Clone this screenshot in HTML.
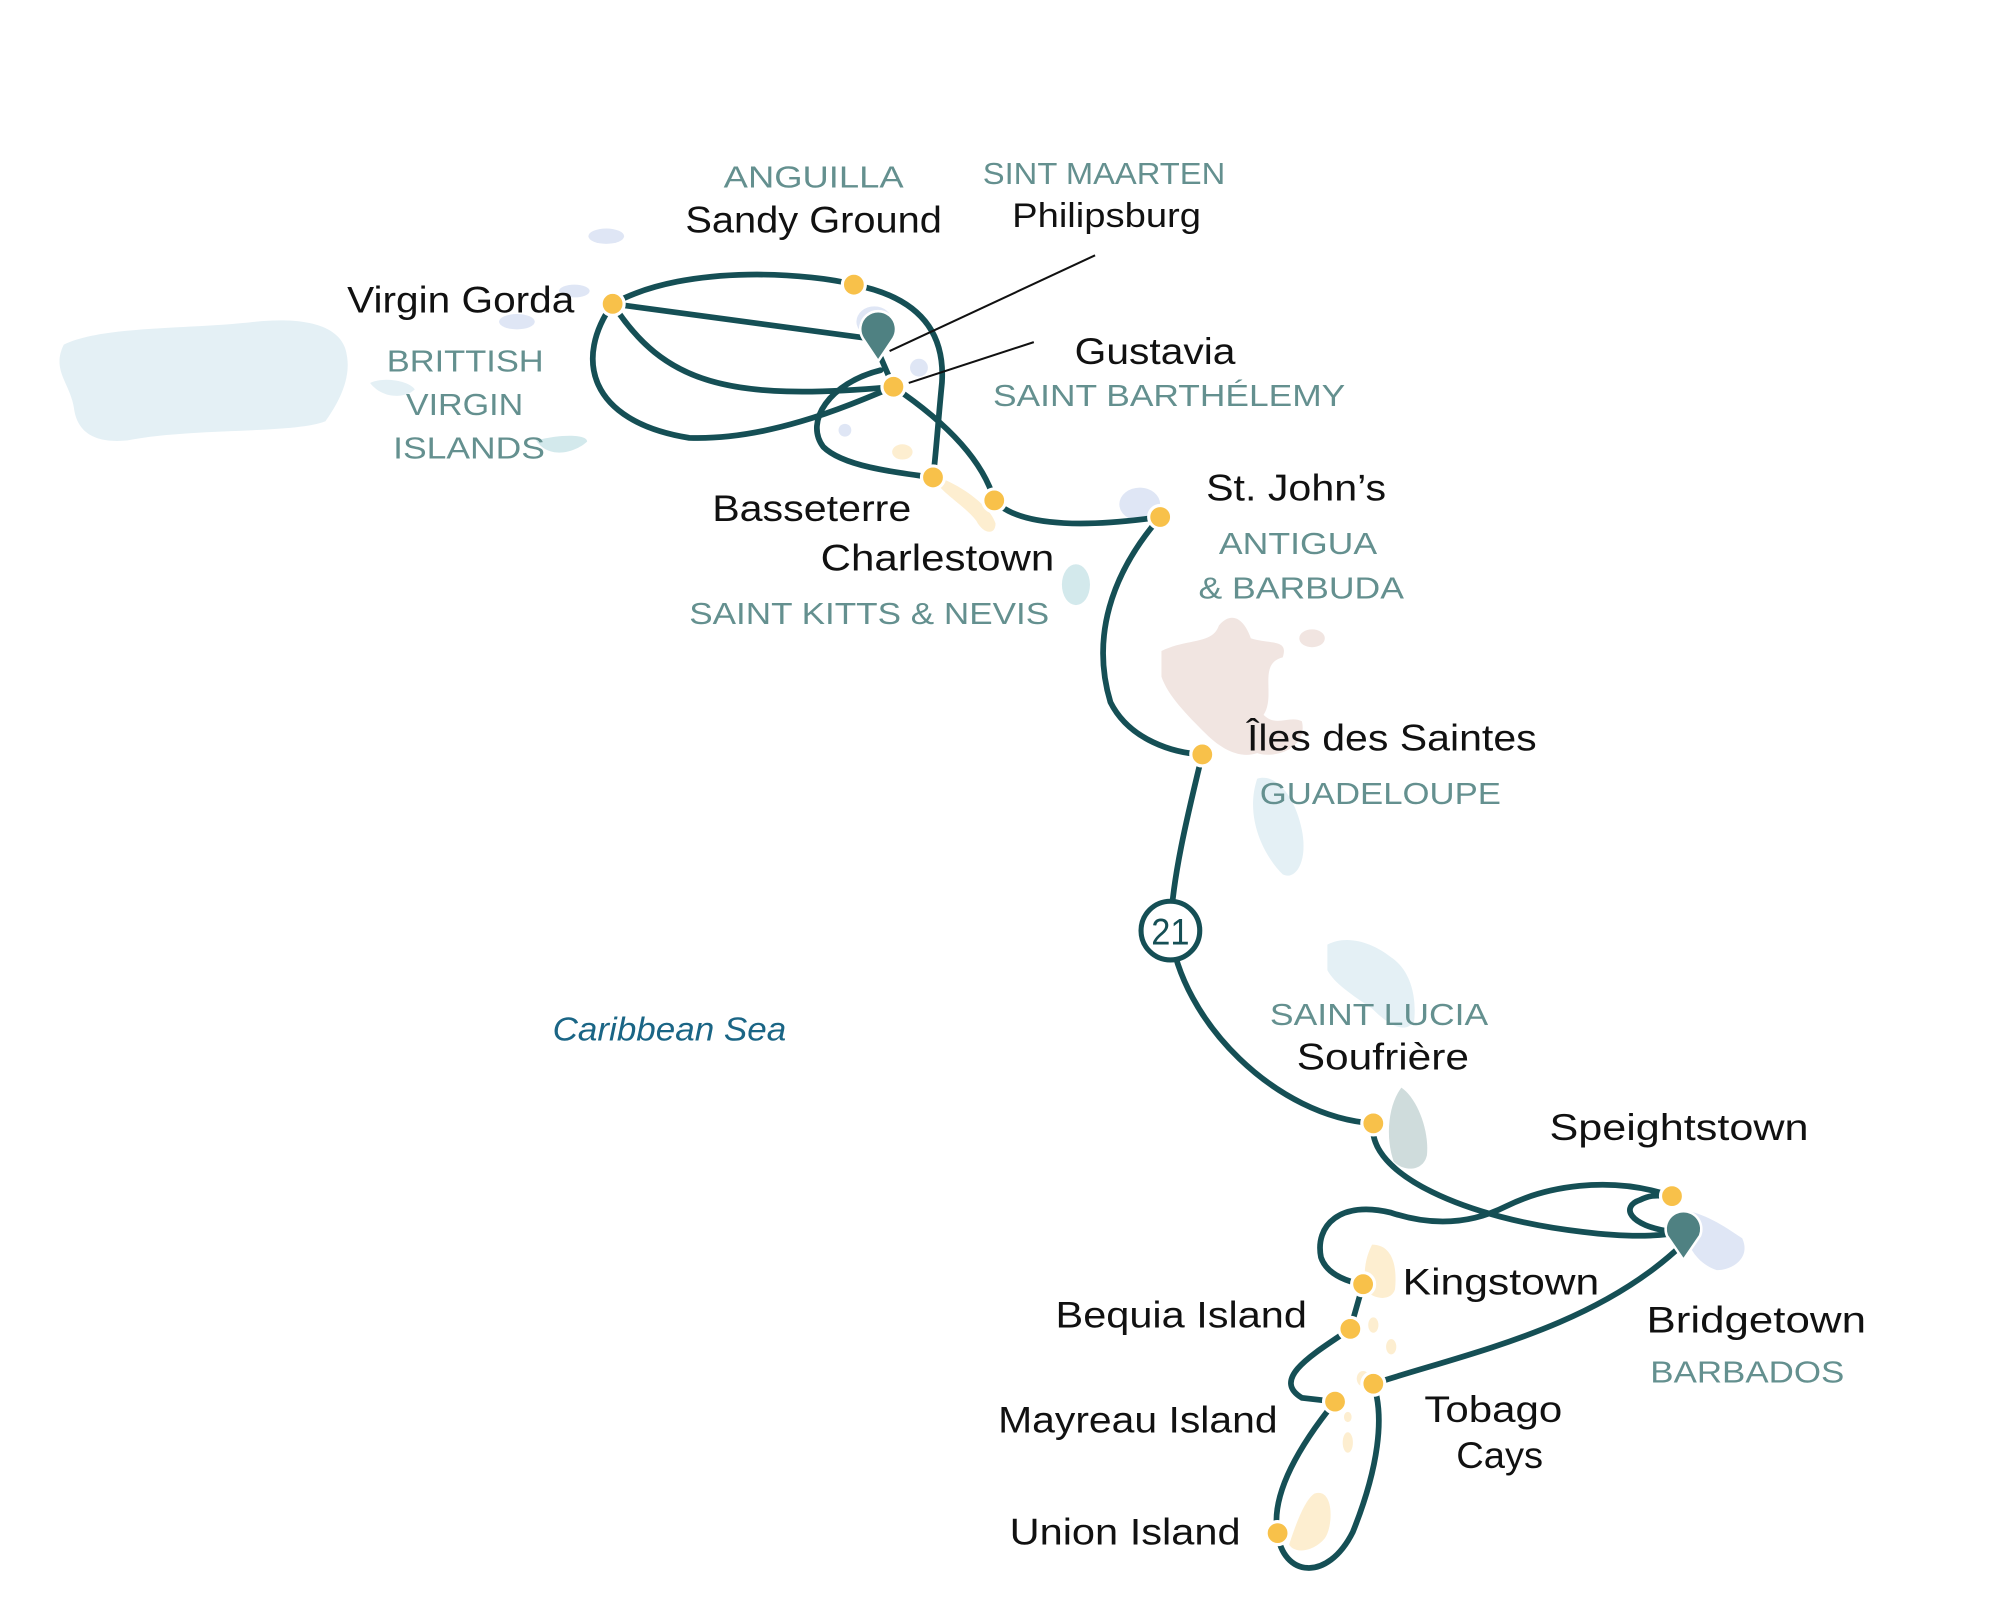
<!DOCTYPE html>
<html><head><meta charset="utf-8"><style>
html,body{margin:0;padding:0;background:#fff;}
svg{display:block;}
.n{font-family:"Liberation Sans",sans-serif;font-size:29px;fill:#111;}
.c{font-family:"Liberation Sans",sans-serif;font-size:24px;fill:#64908f;}
.r{fill:none;stroke:#154f55;stroke-width:4.5;stroke-linecap:round;}
.d{fill:#f8c14a;stroke:#fff;stroke-width:2.5;}
</style></head><body>
<svg width="2000" height="1611" viewBox="0 0 1567 1262" preserveAspectRatio="none" xmlns="http://www.w3.org/2000/svg">
<!-- islands -->
<path d="M50,270 C80,255 150,258 200,252 C240,248 270,255 272,280 C275,300 262,320 255,330 C230,340 150,335 100,345 C70,348 60,335 58,320 C55,300 40,290 50,270Z" fill="#e4f0f5"/>
<path d="M290,300 C300,295 320,298 325,305 C318,312 300,313 290,300Z" fill="#e4f0f5"/>
<path d="M420,345 C440,340 460,340 460,346 C450,355 430,360 420,345Z" fill="#d3e9ec"/>
<ellipse cx="475" cy="185" rx="14" ry="6" fill="#dfe6f5"/>
<ellipse cx="450" cy="228" rx="12" ry="5" fill="#dfe6f5"/>
<ellipse cx="405" cy="252" rx="14" ry="6" fill="#dfe6f5"/>
<ellipse cx="685" cy="252" rx="14" ry="12" fill="#dfe6f5"/>
<ellipse cx="720" cy="288" rx="7" ry="7" fill="#dfe6f5"/>
<ellipse cx="662" cy="337" rx="5" ry="5" fill="#dfe6f5"/>
<ellipse cx="707" cy="354" rx="8" ry="6" fill="#fdeed0"/>
<path d="M730,372 C750,378 775,395 780,410 C780,420 770,418 765,408 C755,395 735,385 730,372Z" fill="#fdeed0"/>
<ellipse cx="843" cy="458" rx="11" ry="16" fill="#d3e9ec"/>
<ellipse cx="893" cy="395" rx="16" ry="13" fill="#dfe6f5"/>
<path d="M910,510 C930,500 950,505 955,490 C965,478 975,485 980,500 C995,505 1010,500 1005,515 C985,520 1000,545 990,560 C1000,570 1010,560 1020,565 C1025,585 1000,595 985,590 C970,595 955,585 945,575 C930,560 915,545 910,530Z" fill="#f1e5e1"/>
<ellipse cx="1028" cy="500" rx="10" ry="7" fill="#f1e5e1"/>
<path d="M985,610 C1000,605 1015,625 1020,650 C1025,675 1015,690 1005,685 C990,670 975,640 985,610Z" fill="#e4f0f5"/>
<path d="M1040,740 C1055,732 1075,738 1090,750 C1105,760 1110,780 1108,800 C1100,812 1085,800 1075,790 C1060,780 1045,770 1040,760Z" fill="#e4f0f5"/>
<path d="M1098,852 C1110,860 1120,885 1118,905 C1115,918 1100,918 1092,910 C1085,890 1088,865 1098,852Z" fill="#cfdcdc"/>
<path d="M1318,948 C1335,950 1350,960 1365,970 C1372,985 1358,995 1345,995 C1330,990 1318,975 1318,948Z" fill="#dfe6f5"/>
<path d="M1075,975 C1090,975 1095,990 1093,1010 C1090,1020 1075,1018 1070,1010 C1068,995 1070,985 1075,975Z" fill="#fdeed0"/>
<ellipse cx="1076" cy="1038" rx="4" ry="6" fill="#fdeed0"/>
<ellipse cx="1090" cy="1055" rx="4" ry="6" fill="#fdeed0"/>
<ellipse cx="1068" cy="1080" rx="5" ry="6" fill="#fdeed0"/>
<ellipse cx="1056" cy="1110" rx="3" ry="4" fill="#fdeed0"/>
<ellipse cx="1056" cy="1130" rx="4" ry="8" fill="#fdeed0"/>
<path d="M1030,1170 C1045,1165 1045,1195 1038,1205 C1030,1215 1015,1218 1010,1210 C1015,1195 1022,1175 1030,1170Z" fill="#fdeed0"/>
<!-- routes -->
<path class="r" d="M480,238 C540,205 640,215 669,223 C730,235 740,270 738,300 C735,330 733,360 731,374"/>
<path class="r" d="M480,238 L680,265"/>
<path class="r" d="M480,238 C520,300 570,315 700,303"/>
<path class="r" d="M480,238 C450,280 460,330 540,343 C600,345 660,320 700,303"/>
<path class="r" d="M700,303 L690,280"/>
<path class="r" d="M690,290 C650,300 630,330 645,350 C660,365 700,370 731,374"/>
<path class="r" d="M700,303 C740,330 770,360 779,392 C800,415 860,412 909,405"/>
<path class="r" d="M909,405 C870,450 855,500 870,550 C885,580 920,590 942,591 C930,640 918,690 917,729 C925,800 1000,875 1076,880"/>
<path class="r" d="M1076,880 C1070,920 1150,955 1240,965 C1280,970 1305,968 1315,965"/>
<path class="r" d="M1310,965 C1275,960 1270,945 1285,940 C1295,935 1300,937 1310,937 C1260,920 1210,930 1180,945 C1150,960 1120,960 1090,950 C1050,940 1030,960 1035,985 C1040,1000 1060,1005 1068,1006 L1058,1041 C1030,1060 995,1080 1020,1095 L1046,1098 C1020,1130 995,1170 1001,1201 C1005,1235 1040,1240 1060,1200 C1080,1150 1085,1110 1076,1084 C1150,1060 1250,1040 1318,975"/>
<!-- pointers -->
<line x1="697" y1="275" x2="858" y2="200" stroke="#111" stroke-width="1.6"/>
<line x1="712" y1="300" x2="810" y2="268" stroke="#111" stroke-width="1.6"/>
<!-- pins -->
<path d="M688,283 L676,265 A14,14 0 1 1 700,265 Z" fill="#4f8182" stroke="#fff" stroke-width="2"/>
<path d="M1319,987 L1306,968 A14,14 0 1 1 1332,968 Z" fill="#4f8182" stroke="#fff" stroke-width="2"/>
<!-- dots -->
<g class="d">
<circle cx="480" cy="238" r="9"/><circle cx="669" cy="223" r="9"/><circle cx="700" cy="303" r="9"/>
<circle cx="731" cy="374" r="9"/><circle cx="779" cy="392" r="9"/><circle cx="909" cy="405" r="9"/>
<circle cx="942" cy="591" r="9"/><circle cx="1076" cy="880" r="9"/><circle cx="1310" cy="937" r="9"/>
<circle cx="1068" cy="1006" r="9"/><circle cx="1058" cy="1041" r="9"/><circle cx="1076" cy="1084" r="9"/>
<circle cx="1046" cy="1098" r="9"/><circle cx="1001" cy="1201" r="9"/>
</g>
<circle cx="917" cy="729" r="23" fill="#fff" stroke="#154f55" stroke-width="4"/>
<text x="917" y="740" text-anchor="middle" font-family="Liberation Sans,sans-serif" font-size="29" fill="#154f55" textLength="30" lengthAdjust="spacingAndGlyphs">21</text>
<!-- labels -->
<text class="c" x="567" y="147" textLength="141" lengthAdjust="spacingAndGlyphs">ANGUILLA</text>
<text class="n" x="537" y="182" textLength="201" lengthAdjust="spacingAndGlyphs">Sandy Ground</text>
<text class="c" x="770" y="144" textLength="190" lengthAdjust="spacingAndGlyphs">SINT MAARTEN</text>
<text class="n" x="793" y="178" style="font-size:27px" textLength="148" lengthAdjust="spacingAndGlyphs">Philipsburg</text>
<text class="n" x="272" y="245" textLength="178" lengthAdjust="spacingAndGlyphs">Virgin Gorda</text>
<text class="c" x="303" y="291" textLength="123" lengthAdjust="spacingAndGlyphs">BRITTISH</text>
<text class="c" x="318" y="325" textLength="92" lengthAdjust="spacingAndGlyphs">VIRGIN</text>
<text class="c" x="308" y="359" textLength="119" lengthAdjust="spacingAndGlyphs">ISLANDS</text>
<text class="n" x="842" y="285" textLength="126" lengthAdjust="spacingAndGlyphs">Gustavia</text>
<text class="c" x="778" y="318" textLength="276" lengthAdjust="spacingAndGlyphs">SAINT BARTHÉLEMY</text>
<text class="n" x="558" y="408" textLength="156" lengthAdjust="spacingAndGlyphs">Basseterre</text>
<text class="n" x="643" y="447" textLength="183" lengthAdjust="spacingAndGlyphs">Charlestown</text>
<text class="c" x="540" y="489" textLength="282" lengthAdjust="spacingAndGlyphs">SAINT KITTS &amp; NEVIS</text>
<text class="n" x="945" y="392" textLength="141" lengthAdjust="spacingAndGlyphs">St. John’s</text>
<text class="c" x="955" y="434" textLength="124" lengthAdjust="spacingAndGlyphs">ANTIGUA</text>
<text class="c" x="939" y="469" textLength="161" lengthAdjust="spacingAndGlyphs">&amp; BARBUDA</text>
<text class="n" x="977" y="588" textLength="227" lengthAdjust="spacingAndGlyphs">Îles des Saintes</text>
<text class="c" x="987" y="630" textLength="189" lengthAdjust="spacingAndGlyphs">GUADELOUPE</text>
<text class="c" x="995" y="803" textLength="171" lengthAdjust="spacingAndGlyphs">SAINT LUCIA</text>
<text class="n" x="1016" y="838" textLength="135" lengthAdjust="spacingAndGlyphs">Soufrière</text>
<text x="433" y="815" font-family="Liberation Sans,sans-serif" font-style="italic" font-size="26" fill="#1a6585" textLength="183" lengthAdjust="spacingAndGlyphs">Caribbean Sea</text>
<text class="n" x="1214" y="893" textLength="203" lengthAdjust="spacingAndGlyphs">Speightstown</text>
<text class="n" x="1099" y="1014" textLength="154" lengthAdjust="spacingAndGlyphs">Kingstown</text>
<text class="n" x="827" y="1040" textLength="197" lengthAdjust="spacingAndGlyphs">Bequia Island</text>
<text class="n" x="1290" y="1044" textLength="172" lengthAdjust="spacingAndGlyphs">Bridgetown</text>
<text class="c" x="1293" y="1083" textLength="152" lengthAdjust="spacingAndGlyphs">BARBADOS</text>
<text class="n" x="1116" y="1114" textLength="108" lengthAdjust="spacingAndGlyphs">Tobago</text>
<text class="n" x="1141" y="1150" textLength="68" lengthAdjust="spacingAndGlyphs">Cays</text>
<text class="n" x="782" y="1122" textLength="219" lengthAdjust="spacingAndGlyphs">Mayreau Island</text>
<text class="n" x="791" y="1210" textLength="181" lengthAdjust="spacingAndGlyphs">Union Island</text>
</svg>
</body></html>
